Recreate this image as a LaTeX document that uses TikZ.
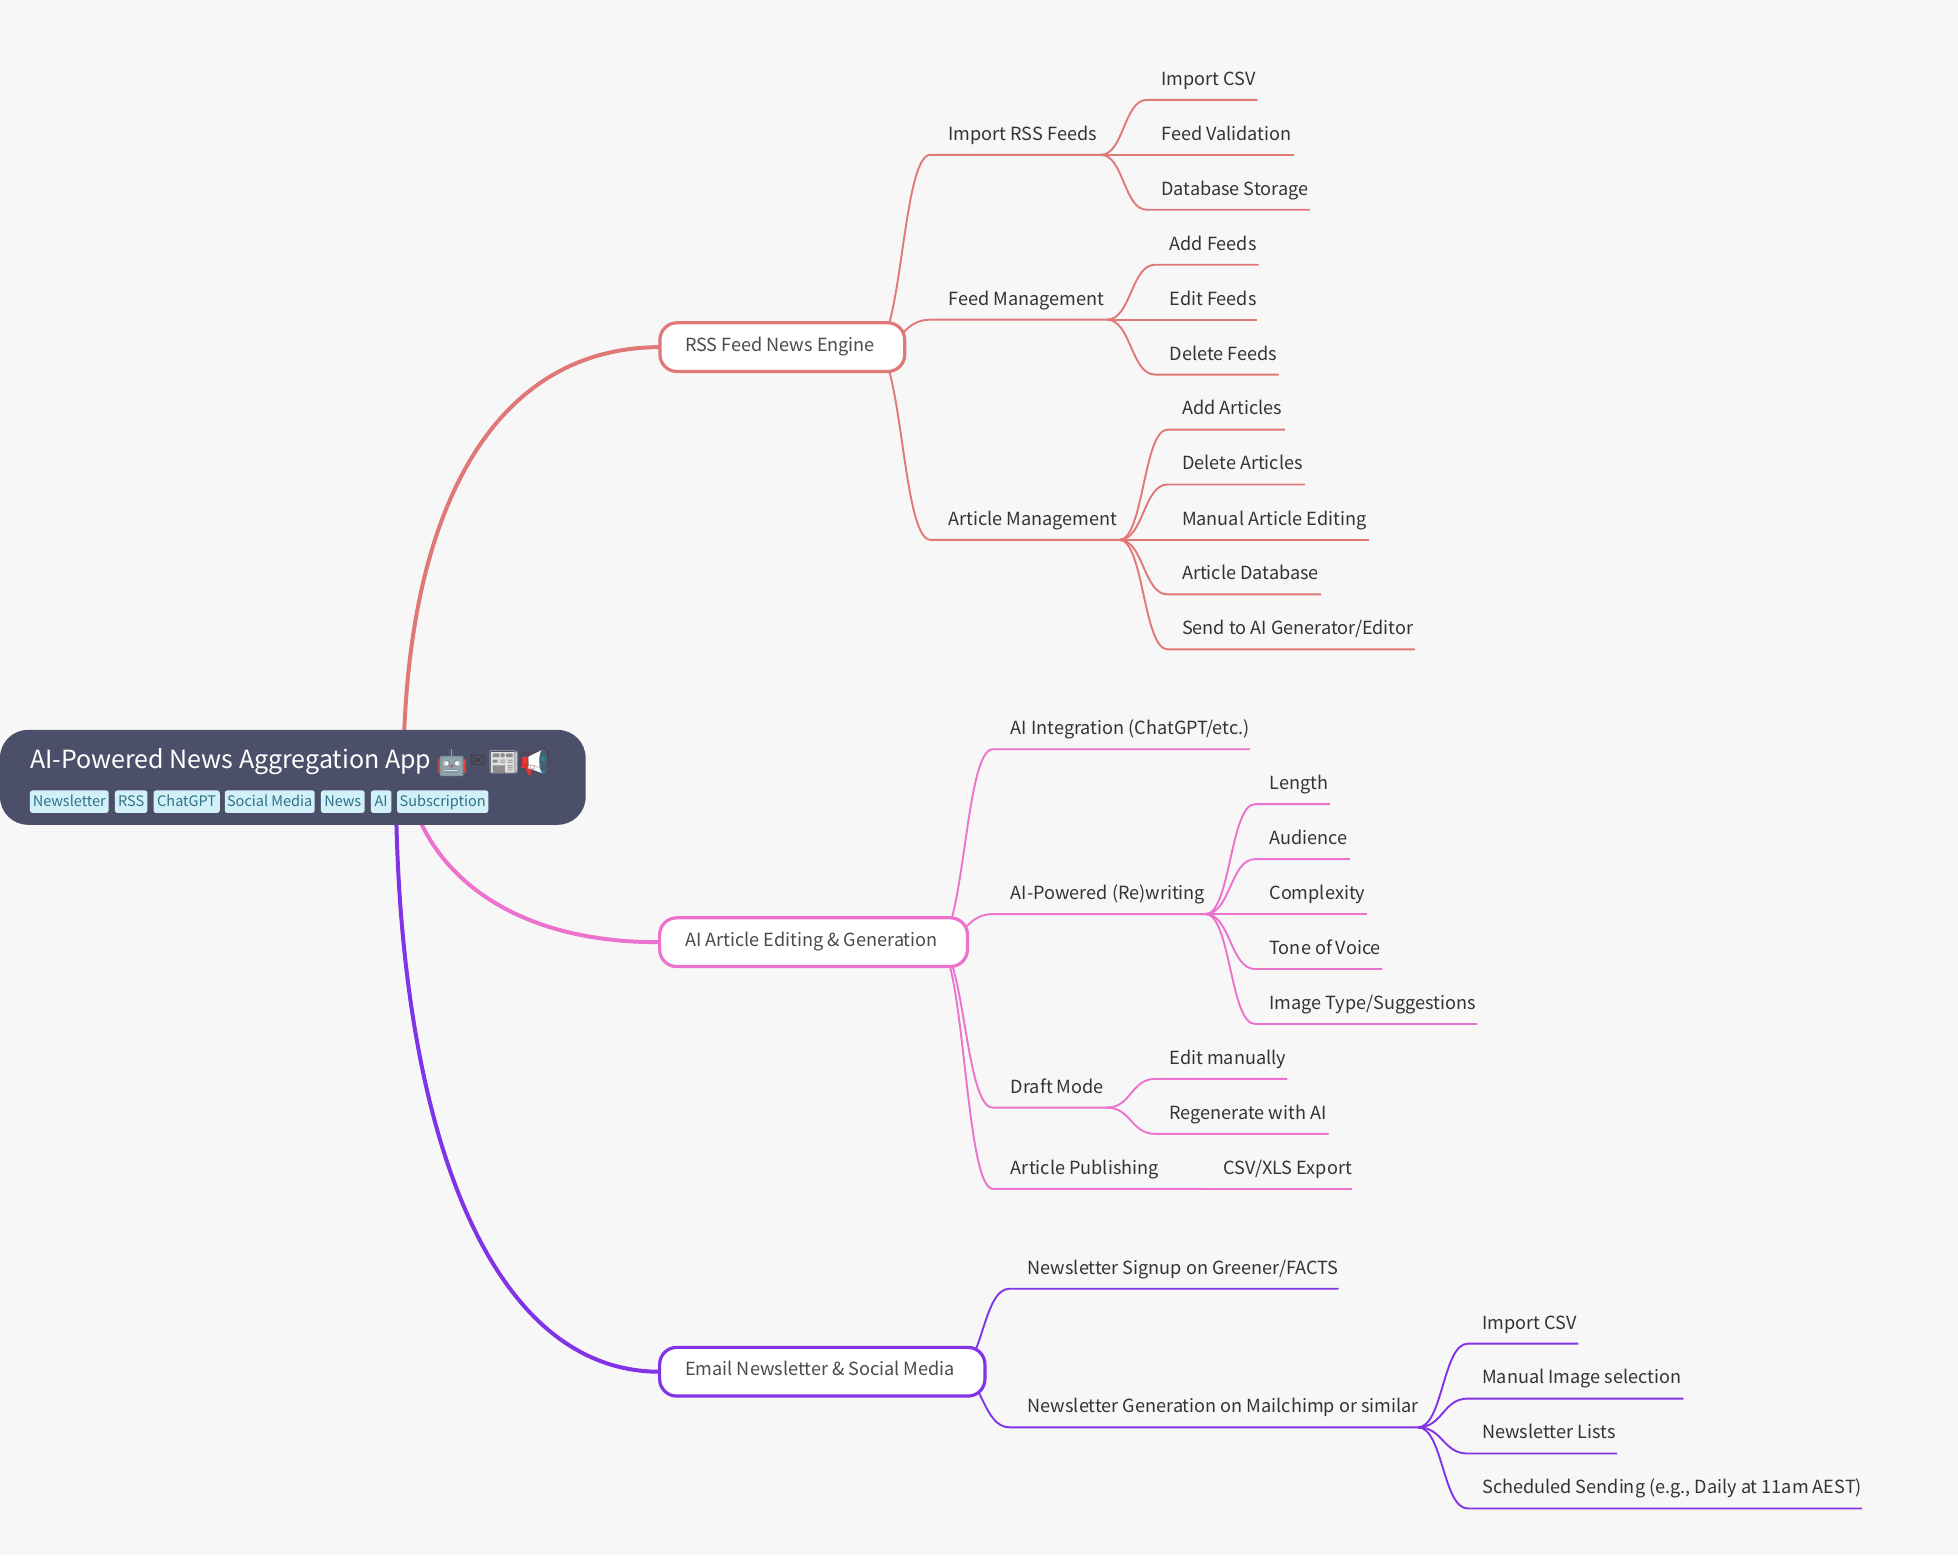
\documentclass[tikz,border=0pt]{standalone}
\usepackage{fontspec}
\setmainfont{Noto Sans CJK SC}
\newfontfamily\emojifont{Noto Emoji}
\newfontfamily\dejavu{DejaVu Sans}
\usetikzlibrary{calc,backgrounds}
\definecolor{bgc}{HTML}{F7F7F7}
\definecolor{rootc}{HTML}{4C4F69}
\definecolor{rssc}{HTML}{E07878}
\definecolor{aic}{HTML}{EC72CE}
\definecolor{mailc}{HTML}{8133E8}
\definecolor{tagbg}{HTML}{D2F0F8}
\definecolor{tagfg}{HTML}{2F7288}
\definecolor{labc}{HTML}{333333}
\definecolor{l1txt}{HTML}{4A4A4A}
\definecolor{robotc}{HTML}{90A4AE}
\definecolor{emored}{HTML}{E53935}
\definecolor{emoteal}{HTML}{2F7E92}
\tikzset{
  x=1.2487pt,y=-1.2487pt,
  lab/.style={anchor=base west,inner sep=0pt,outer sep=0pt,font=\fontsize{18.1}{22}\selectfont,text=labc},
  lone/.style={draw=#1,line width=3.2pt,fill=white,rounded corners=17pt,inner sep=0pt,outer sep=0pt},
  lonetxt/.style={anchor=base west,inner sep=0pt,font=\fontsize{18.1}{22}\selectfont,text=l1txt},
  branch/.style={line width=4pt,draw=#1},
  twig/.style={line width=1.9pt,draw=#1},
  tagbox/.style={fill=tagbg,rounded corners=2.5pt,inner sep=0pt,text=tagfg,font=\fontsize{14.5}{18}\selectfont,text height=12.5pt,text depth=3pt,minimum height=22.5pt,anchor=center},
  emo/.style={inner sep=0pt,font=\emojifont\fontsize{27}{30}\selectfont,anchor=center},
}
\newcommand{\leaf}[5]{%
  \node[lab] (#1) at (#2+0.6,#3-11.7) {#5};
  \coordinate (#1s) at (#2-14,#3);
  \coordinate (#1t) at (#2-11,#3);
  \coordinate (#1h) at (#4-2.5,#3);
  \coordinate (#1e) at (#4,#3);}
% first to second level: the S curve starts behind the box
\newcommand{\conn}[3]{%
  \draw[twig=#1] let \p1=(#2),\p2=(#3s) in (\p1) .. controls ({0.5*(\x1+\x2)},\y1) and ({0.5*(\x1+\x2)},\y2) .. (\p2) -- (#3e);}
% deeper levels: the S curve starts at the parent's junction
\newcommand{\connb}[3]{%
  \draw[twig=#1] let \p1=(#2h),\p2=(#3t) in (\p1) .. controls ({0.5*(\x1+\x2)},\y1) and ({0.5*(\x1+\x2)},\y2) .. (\p2) -- (#3e);}
\newcommand{\tagn}[4]{%
  \node[tagbox,minimum width={(#3-#2)*1.2487pt}] (#1) at ({(#2+#3)/2},642) {#4};}
\begin{document}
\begin{tikzpicture}
\useasboundingbox (0,0) rectangle (1568,1245.3);

% root
\node[fill=rootc,rounded corners=28pt,minimum width=469*1.2487pt,minimum height=76*1.2487pt,inner sep=0pt,outer sep=0pt] (root) at (234.5,622.5) {};
\node[anchor=base west,inner sep=0pt,text=white,font=\fontsize{25}{30}\selectfont] (title) at (24,615.5) {AI-Powered News Aggregation App};
% emoji colour underlays
\fill[robotc] (361.3,600) rectangle (362.3,606);
\fill[emored] (350.8,608) rectangle (373,618.8);
\fill[robotc,rounded corners=1pt] (352.4,605.4) rectangle (371,621.4);
\fill[white] (357.2,611.3) circle (2);
\fill[white] (366.3,611.3) circle (2);
\fill[emored] (361.8,613.4) circle (1.2);
\fill[white] (356.5,616.3) rectangle (367,617.8);
\fill[black!12] (393,602.5) rectangle (414,619);
\fill[emored] (417.8,606) rectangle (423.2,615.3);
\fill[emored] (420.5,615) -- (424,615) -- (426,620.6) -- (423,620.6) -- cycle;
\fill[white] (423.2,606) -- (435,600) -- (435,619.3) -- (423.2,615.3) -- cycle;
\fill[emoteal] (435.2,609.6) ellipse (3.4 and 10);
\node[emo,text=robotc!75!black,opacity=0.45] (e1) at (362,611) {🤖};
\node[emo,text=black!75,font=\dejavu\fontsize{20}{22}\selectfont] (e2) at (382.5,610) {✉};
\node[emo,text=black!45] (e3) at (403.5,610.5) {📰};
\node[emo,text=emored!50!black,opacity=0.3] (e4) at (428.5,610) {📢};
\tagn{t1}{24}{87}{Newsletter}
\tagn{t2}{92}{118}{RSS}
\tagn{t3}{123}{176}{ChatGPT}
\tagn{t4}{180}{252}{Social Media}
\tagn{t5}{257}{292}{News}
\tagn{t6}{297}{313.5}{AI}
\tagn{t7}{318}{391}{Subscription}

% first level
\node[lone=rssc,minimum width=196*1.2487pt,minimum height=39*1.2487pt] (rss) at (626.5,278) {};
\node[lonetxt] (rsst) at (548.5,281.5) {RSS Feed News Engine};
\node[lone=aic,minimum width=246.5*1.2487pt,minimum height=39*1.2487pt] (ai) at (651.5,754.5) {};
\node[lonetxt] (ait) at (548.5,757.7) {AI Article Editing \& Generation};
\node[lone=mailc,minimum width=260.5*1.2487pt,minimum height=39*1.2487pt] (mail) at (658.5,1098.5) {};
\node[lonetxt] (mailt) at (548.5,1101.7) {Email Newsletter \& Social Media};

\coordinate (rssh) at (700,278);
\coordinate (aih) at (750,755);
\coordinate (mailh) at (765,1099);

% RSS leaves
\leaf{a1}{759}{124}{884}{Import RSS Feeds}
\leaf{a11}{929.4}{80}{1007}{Import CSV}
\leaf{a12}{929.4}{124}{1036}{Feed Validation}
\leaf{a13}{929.4}{168}{1049}{Database Storage}
\leaf{a2}{759}{256}{889}{Feed Management}
\leaf{a21}{936}{212}{1008}{Add Feeds}
\leaf{a22}{936}{256}{1007}{Edit Feeds}
\leaf{a23}{936}{300}{1024}{Delete Feeds}
\leaf{a3}{759}{432.3}{899}{Article Management}
\leaf{a31}{946}{344}{1029}{Add Articles}
\leaf{a32}{946}{388}{1045}{Delete Articles}
\leaf{a33}{946}{432.3}{1096}{Manual Article Editing}
\leaf{a34}{946}{476}{1058}{Article Database}
\leaf{a35}{946}{520}{1133}{Send to AI Generator/Editor}
% AI leaves
\leaf{b1}{809}{600}{1001}{AI Integration (ChatGPT/etc.)}
\leaf{b2}{809}{732}{968}{AI-Powered (Re)writing}
\leaf{b21}{1016}{644}{1065}{Length}
\leaf{b22}{1016}{688}{1081}{Audience}
\leaf{b23}{1016}{732}{1095}{Complexity}
\leaf{b24}{1016}{776}{1107}{Tone of Voice}
\leaf{b25}{1016}{820}{1183}{Image Type/Suggestions}
\leaf{b3}{809}{887}{889}{Draft Mode}
\leaf{b31}{936}{864}{1031}{Edit manually}
\leaf{b32}{936}{908}{1064}{Regenerate with AI}
\leaf{b4}{809}{952}{965}{Article Publishing}
\leaf{b41}{979.4}{952}{1083}{CSV/XLS Export}
% mail leaves
\leaf{c1}{822.4}{1032}{1072}{Newsletter Signup on Greener/FACTS}
\leaf{c2}{822.4}{1143}{1138}{Newsletter Generation on Mailchimp or similar}
\leaf{c21}{1186.4}{1076}{1264}{Import CSV}
\leaf{c22}{1186.4}{1120}{1348}{Manual Image selection}
\leaf{c23}{1186.4}{1164}{1295}{Newsletter Lists}
\leaf{c24}{1186.4}{1208}{1491}{Scheduled Sending (e.g., Daily at 11am AEST)}

\begin{scope}[on background layer]
\fill[bgc] (0,0) rectangle (1568,1245.3);
\draw[branch=rssc] (323,622) .. controls (323,400) and (400,278) .. (rss.west);
\draw[branch=aic] (326,622) .. controls (336,690) and (400,755) .. (ai.west);
\draw[branch=mailc] (317,622) .. controls (317,900) and (390,1098.5) .. (mail.west);
\conn{rssc}{rssh}{a1}\conn{rssc}{rssh}{a2}\conn{rssc}{rssh}{a3}
\connb{rssc}{a1}{a11}\connb{rssc}{a1}{a12}\connb{rssc}{a1}{a13}
\connb{rssc}{a2}{a21}\connb{rssc}{a2}{a22}\connb{rssc}{a2}{a23}
\connb{rssc}{a3}{a31}\connb{rssc}{a3}{a32}\connb{rssc}{a3}{a33}\connb{rssc}{a3}{a34}\connb{rssc}{a3}{a35}
\conn{aic}{aih}{b1}\conn{aic}{aih}{b2}\conn{aic}{aih}{b3}\conn{aic}{aih}{b4}
\connb{aic}{b2}{b21}\connb{aic}{b2}{b22}\connb{aic}{b2}{b23}\connb{aic}{b2}{b24}\connb{aic}{b2}{b25}
\connb{aic}{b3}{b31}\connb{aic}{b3}{b32}
\connb{aic}{b4}{b41}
\conn{mailc}{mailh}{c1}\conn{mailc}{mailh}{c2}
\connb{mailc}{c2}{c21}\connb{mailc}{c2}{c22}\connb{mailc}{c2}{c23}\connb{mailc}{c2}{c24}
\end{scope}
\end{tikzpicture}
\end{document}
